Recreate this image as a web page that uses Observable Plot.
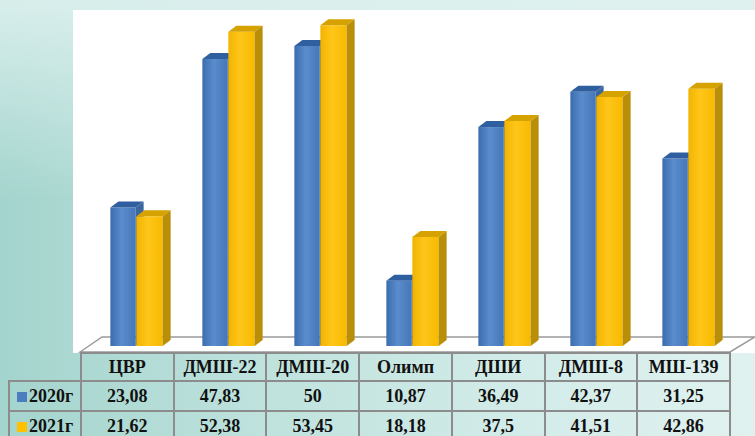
<!DOCTYPE html>
<html><head><meta charset="utf-8">
<script src="https://cdn.jsdelivr.net/npm/d3@7"></script>
<script src="https://cdn.jsdelivr.net/npm/@observablehq/plot@0.6"></script>
<style>
html,body{margin:0;padding:0;}
body{width:755px;height:436px;overflow:hidden;position:relative;
 background:linear-gradient(to right,#a3d4cd 0%,#bfe2dd 35%,#d3ece9 70%,#e0f2f0 100%);}
#topfade{position:absolute;left:0;top:0;width:755px;height:200px;
 background:linear-gradient(to bottom,rgba(222,241,239,0.9),rgba(222,241,239,0));}
#white{position:absolute;left:73px;top:10px;width:682px;height:343px;background:#fff;}
#chart{position:absolute;left:0;top:0;}
table{position:absolute;left:8px;top:352px;border-collapse:collapse;table-layout:fixed;width:721px;
 font-family:"Liberation Serif","Times New Roman",serif;font-weight:bold;font-size:18px;color:#111;}
td,th{border:2px solid #8c8c8c;text-align:center;padding:0;font-weight:bold;white-space:nowrap;}
tr.h th{height:26px;}
tr.r td{height:28px;}
th.corner{border-top:none;border-left:none;}
.sw{display:inline-block;width:10px;height:10px;margin-right:2px;vertical-align:0px;}
</style></head>
<body>
<div id="topfade"></div>
<div id="white"></div>
<div id="chart"></div>
<table id="tbl"></table>
<script>
const categories = ["ЦВР","ДМШ-22","ДМШ-20","Олимп","ДШИ","ДМШ-8","МШ-139"];
const seriesNames = ["2020г","2021г"];
const v2020 = [23.08,47.83,50,10.87,36.49,42.37,31.25];
const v2021 = [21.62,52.38,53.45,18.18,37.5,41.51,42.86];
const colors = {front:["#4a7ebf","#ffc000"], top:["#2f5f9f","#d6a200"], side:["#3a679f","#b98f0a"]};

const rows = [v2020, v2021];
const data = seriesNames.flatMap((s,si)=>categories.map((c,i)=>({cat:c, series:s, value:rows[si][i]})));

const W = 755, H = 352;
const bandW = (729-80)/categories.length;
const half = bandW/2;
const place = [{l:half-19, r:half-7}, {l:half+7, r:half-34}];
const DX = 8, DY = -6;

const plot = Plot.plot({
  width: W, height: H,
  marginLeft: 80, marginRight: 26, marginTop: 10, marginBottom: 6,
  x: {domain: categories, padding: 0, axis: null},
  y: {domain: [0, 56], axis: null},
  style: {background: "transparent", overflow: "visible"},
  marks: seriesNames.map((s,si)=>Plot.barY(data.filter(d=>d.series===s), {
    x: "cat", y: "value", fill: `url(#grad${si})`,
    insetLeft: place[si].l, insetRight: place[si].r
  }))
});
document.getElementById("chart").appendChild(plot);

const svgns = "http://www.w3.org/2000/svg";
const svg = d3.select(plot);
const barGroups = Array.from(plot.children).filter(n=>n.tagName.toLowerCase()==="g");
const defs = svg.insert("defs", ":first-child");
const gstops = [
  [["0%","#3c6cae"],["45%","#5a8dcd"],["100%","#4676b8"]],
  [["0%","#f2b400"],["45%","#ffc61a"],["100%","#f7ba00"]]
];
gstops.forEach((st,i)=>{
  const g = defs.append("linearGradient").attr("id","grad"+i).attr("x1","0").attr("x2","1").attr("y1","0").attr("y2","0");
  st.forEach(([o,c])=>g.append("stop").attr("offset",o).attr("stop-color",c));
});

const xs = plot.scale("x"), ys = plot.scale("y");
const bw = xs.bandwidth;

// floor (behind the bars)
const [r0, r1] = xs.range;
const yFront = H, yBack = H-15;
const floor = document.createElementNS(svgns,"polygon");
plot.insertBefore(floor, barGroups[0]);
d3.select(floor)
  .attr("points", [[r0, yFront],[r0+22, yBack],[W, yBack],[r1+1, yFront]].map(p=>p.join(",")).join(" "))
  .attr("fill","#fff").attr("stroke","#9a9a9a").attr("stroke-width",1.5);

// 3D faces for each series, placed right after its front bars
seriesNames.forEach((s,si)=>{
  const g = document.createElementNS(svgns,"g");
  barGroups[si].after(g);
  const sel = d3.select(g);
  data.filter(d=>d.series===s).forEach(d=>{
    const x0 = xs.apply(d.cat) + place[si].l;
    const x1 = xs.apply(d.cat) + bw - place[si].r;
    const yt = ys.apply(d.value), yb = ys.apply(0);
    sel.append("polygon")
      .attr("points", [[x0,yt],[x1,yt],[x1+DX,yt+DY],[x0+DX,yt+DY]].map(p=>p.join(",")).join(" "))
      .attr("fill", colors.top[si]);
    sel.append("polygon")
      .attr("points", [[x1,yt],[x1+DX,yt+DY],[x1+DX,yb+DY],[x1,yb]].map(p=>p.join(",")).join(" "))
      .attr("fill", colors.side[si]);
  });
});

// data table
const fmt = v => String(v).replace(".", ",");
const tbl = d3.select("#tbl");
const cg = tbl.append("colgroup");
cg.append("col").style("width","72px");
categories.forEach(()=>cg.append("col").style("width", bandW+"px"));
const hr = tbl.append("tr").attr("class","h");
hr.append("th").attr("class","corner");
categories.forEach(c=>hr.append("th").text(c));
seriesNames.forEach((s,si)=>{
  const tr = tbl.append("tr").attr("class","r");
  const lab = tr.append("td");
  lab.append("span").attr("class","sw").style("background", colors.front[si]);
  lab.append("span").text(s);
  rows[si].forEach(v=>tr.append("td").text(fmt(v)));
});
</script>
</body></html>
